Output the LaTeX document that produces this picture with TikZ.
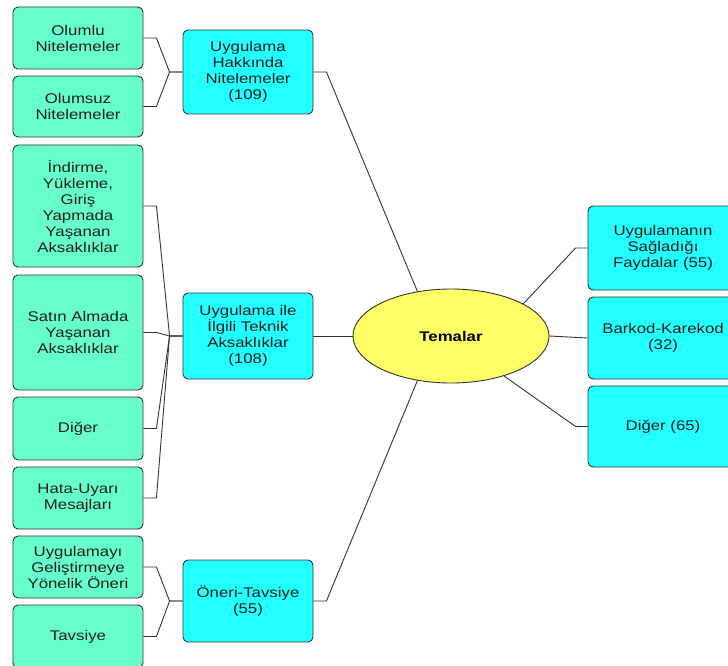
\documentclass[tikz,border=0pt]{standalone}
\usepackage{fontspec}
\setmainfont{Liberation Sans}[FakeStretch=1.2]
\usetikzlibrary{shapes.geometric}
\definecolor{leafgreen}{HTML}{66FFCC}
\definecolor{themecyan}{HTML}{22FFFF}
\definecolor{coreyellow}{HTML}{FFFF66}
\definecolor{edgegray}{HTML}{333333}
\definecolor{inkgray}{HTML}{1E1E1E}
\begin{document}
\begin{tikzpicture}[x=1pt,y=-1pt,
  box/.style={draw=edgegray, line width=0.9pt, rounded corners=5pt, align=center,
    inner sep=0pt, text=inkgray, font=\fontsize{14}{16}\selectfont},
  leaf/.style={box, fill=leafgreen, minimum width=130pt},
  theme/.style={box, fill=themecyan, minimum width=130pt},
  sidetheme/.style={box, fill=themecyan, minimum width=150pt},
  core/.style={ellipse, draw=edgegray, line width=0.9pt, fill=coreyellow, inner sep=0pt,
    minimum width=196pt, minimum height=94pt, text=black,
    font=\fontsize{14}{16}\selectfont\bfseries},
  link/.style={draw=edgegray, line width=0.9pt}]
\useasboundingbox (0,0) rectangle (728,666);
\clip (0,0) rectangle (728,666);

% left column
\node[leaf, minimum height=62pt]  (olumlu)   at (78,38)    {Olumlu\\Nitelemeler};
\node[leaf, minimum height=61pt]  (olumsuz)  at (78,106.5) {Olumsuz\\Nitelemeler};
\node[leaf, minimum height=122pt] (indirme)  at (78,206)   {İndirme,\\Yükleme,\\Giriş\\Yapmada\\Yaşanan\\Aksaklıklar};
\node[leaf, minimum height=115pt] (satin)    at (78,332.5) {Satın Almada\\Yaşanan\\Aksaklıklar};
\node[leaf, minimum height=63pt]  (diger)    at (78,428.5) {Diğer};
\node[leaf, minimum height=62pt]  (hata)     at (78,498)   {Hata-Uyarı\\Mesajları};
\node[leaf, minimum height=62pt]  (gelistir) at (78,567)   {Uygulamayı\\Geliştirmeye\\Yönelik Öneri};
\node[leaf, minimum height=63pt]  (tavsiye)  at (78,636.5) {Tavsiye};

% middle column
\node[theme, minimum height=84pt] (hakkinda) at (248,72)  {Uygulama\\Hakkında\\Nitelemeler\\(109)};
\node[theme, minimum height=86pt] (teknik)   at (248,336) {Uygulama ile\\İlgili Teknik\\Aksaklıklar\\(108)};
\node[theme, minimum height=82pt] (oneri)    at (248,601) {Öneri-Tavsiye\\(55)};

% centre
\node[core] (tema) at (451,336) {Temalar};

% right column
\node[sidetheme, minimum height=84pt] (fayda)  at (663,248)   {Uygulamanın\\Sağladığı\\Faydalar (55)};
\node[sidetheme, minimum height=82pt] (barkod) at (663,338)   {Barkod-Karekod\\(32)};
\node[sidetheme, minimum height=81pt] (digerr) at (663,426.5) {Diğer (65)};

% elbow connectors, left side
\foreach \leafnode/\hub in {olumlu/hakkinda, olumsuz/hakkinda,
    indirme/teknik, satin/teknik, diger/teknik, hata/teknik,
    gelistir/oneri, tavsiye/oneri}
  \draw[link] (\leafnode.east) -- ++(13,0) -- ([xshift=-13pt]\hub.west) -- (\hub.west);

% themes to centre
\draw[link] (hakkinda.east) -- ++(13,0) -- (tema.127);
\draw[link] (teknik.east) -- (tema.west);
\draw[link] (oneri.east) -- ++(13,0) -- (tema.233);
\draw[link] (tema.24) -- ([xshift=-12pt]fayda.west) -- (fayda.west);
\draw[link] (tema.east) -- (barkod.west);
\draw[link] (tema.-37) -- ([xshift=-12pt]digerr.west) -- (digerr.west);
\end{tikzpicture}
\end{document}
